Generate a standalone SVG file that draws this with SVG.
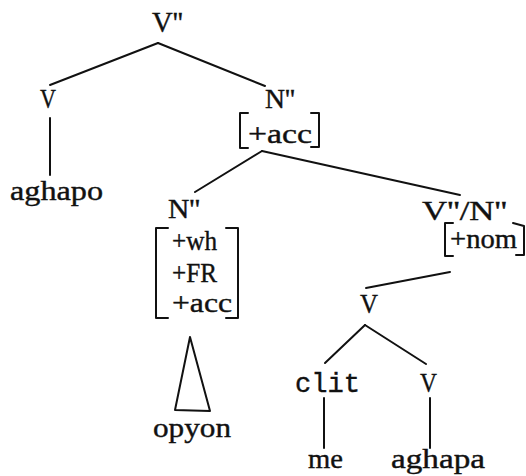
<svg xmlns="http://www.w3.org/2000/svg" width="526" height="476" viewBox="0 0 526 476">
<style>
text{font-family:"Liberation Serif","DejaVu Serif",serif;font-size:28px;fill:#111;stroke:#111;stroke-width:0.4}
.m{font-family:"Liberation Mono","DejaVu Sans Mono",monospace;font-size:27px}
.big{font-size:30px}
line,path,polygon{stroke:#111;stroke-width:2;fill:none;stroke-linecap:round;stroke-linejoin:round}
</style>
<rect width="526" height="476" fill="#fff"/>
<g id="connectors">
<line x1="158" y1="43" x2="50" y2="85"/>
<line x1="158" y1="43" x2="265" y2="86"/>
<line x1="50" y1="118" x2="50" y2="175"/>
<line x1="262" y1="151" x2="195" y2="192"/>
<line x1="262" y1="151" x2="460" y2="195"/>
<line x1="450" y1="272" x2="366" y2="288"/>
<line x1="365" y1="325" x2="325" y2="363"/>
<line x1="365" y1="325" x2="426" y2="364"/>
<line x1="324" y1="398" x2="324" y2="448"/>
<line x1="430" y1="398" x2="430" y2="448"/>
<polygon points="190,337 175,410 210,411"/>
</g>
<g id="n-vbar2"><text class="big" x="152" y="32" textLength="31" lengthAdjust="spacingAndGlyphs">V''</text></g>
<g id="n-v1"><text x="40" y="108" textLength="16" lengthAdjust="spacingAndGlyphs">V</text></g>
<g id="n-aghapo"><text x="10" y="200" textLength="93" lengthAdjust="spacingAndGlyphs">aghapo</text></g>
<g id="n-nbar2-acc">
<text x="265" y="108" textLength="30" lengthAdjust="spacingAndGlyphs">N''</text>
<path d="M248,113 H240 V148 H248"/>
<path d="M311,113 H319 V147 H311"/>
<text x="248" y="143" textLength="64" lengthAdjust="spacingAndGlyphs">+acc</text>
</g>
<g id="n-nbar2-wh">
<text x="168" y="218" textLength="32" lengthAdjust="spacingAndGlyphs">N''</text>
<path d="M168,228 H156 V318 H168"/>
<path d="M226,228 H238 V318 H226"/>
<text x="172" y="250" textLength="45" lengthAdjust="spacingAndGlyphs">+wh</text>
<text x="172" y="282" textLength="45" lengthAdjust="spacingAndGlyphs">+FR</text>
<text x="172" y="312" textLength="60" lengthAdjust="spacingAndGlyphs">+acc</text>
</g>
<g id="n-opyon"><text x="153" y="437" textLength="78" lengthAdjust="spacingAndGlyphs">opyon</text></g>
<g id="n-vn">
<text x="422" y="220" textLength="85" lengthAdjust="spacingAndGlyphs">V''/N''</text>
<path d="M453,223 H445 V256 H453"/>
<path d="M513,223 L524,226 V255 H516"/>
<text x="450" y="248" textLength="67" lengthAdjust="spacingAndGlyphs">+nom</text>
</g>
<g id="n-v2"><text x="360" y="313" textLength="18" lengthAdjust="spacingAndGlyphs">V</text></g>
<g id="n-clit"><text class="m" x="295" y="392" textLength="65" lengthAdjust="spacingAndGlyphs">clit</text></g>
<g id="n-v3"><text x="420" y="392" textLength="17" lengthAdjust="spacingAndGlyphs">V</text></g>
<g id="n-me"><text x="308" y="468" textLength="35" lengthAdjust="spacingAndGlyphs">me</text></g>
<g id="n-aghapa"><text x="391" y="468" textLength="94" lengthAdjust="spacingAndGlyphs">aghapa</text></g>
</svg>
